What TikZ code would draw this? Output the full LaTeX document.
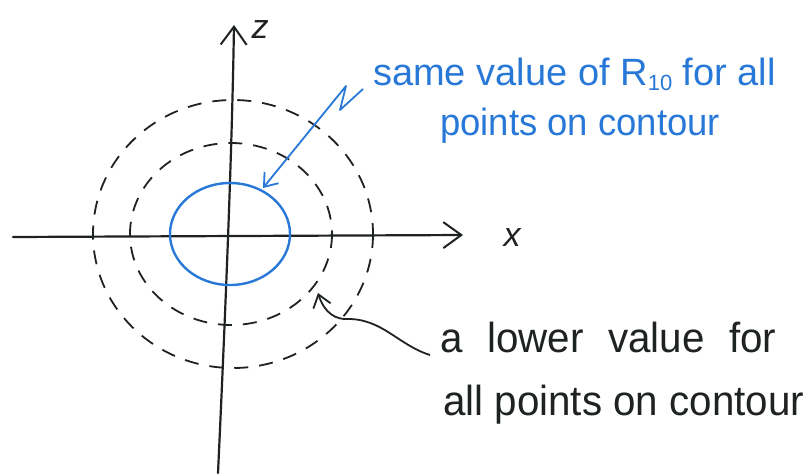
\documentclass[tikz,border=0pt]{standalone}
\usepackage{fontspec}
\setmainfont{Liberation Sans}
\usetikzlibrary{arrows.meta}
\definecolor{penblue}{RGB}{40,120,215}
\definecolor{penblack}{RGB}{30,34,32}
\newcommand{\wsp}{\hspace*{14pt}}
\tikzset{
  axis/.style={draw=penblack,line width=2.2pt,line cap=round},
  contour/.style={draw=penblack,line width=1.8pt,dash pattern=on 14pt off 11pt},
  bluecontour/.style={draw=penblue,line width=2.4pt},
  bluetext/.style={text=penblue,font=\fontsize{38}{44}\selectfont,inner sep=0pt,anchor=base west},
  blacktext/.style={text=penblack,font=\fontsize{42}{48}\selectfont,inner sep=0pt,anchor=base west},
  axlabel/.style={text=penblack,font=\fontsize{34}{40}\selectfont\itshape,inner sep=0pt},
  barb/.style={-{Straight Barb[length=18pt,width=26pt,line width=2pt]}}
}
\begin{document}
\begin{tikzpicture}[x=1pt,y=-1pt]
\useasboundingbox (0,0) rectangle (809,475);
% axes
\coordinate (xl) at (13,237);
\coordinate (xr) at (463,235);
\coordinate (zb) at (218,473);
\coordinate (zt) at (234,25);
\draw[axis,barb] (xl) -- (xr);
\draw[axis,barb] (zb) .. controls (226,300) and (232,150) .. (zt);
\node[axlabel] (xlab) at (512,238) {x};
\node[axlabel] (zlab) at (260,30) {z};
% contours
\draw[contour] (233,234) ellipse [x radius=140,y radius=134];
\draw[contour] (231,234) ellipse [x radius=101,y radius=91];
\draw[bluecontour] (230,234) ellipse [x radius=60,y radius=51];
% blue label
\node[bluetext] (same) at (373,85) {\scalebox{1.0}[1]{same value of R\raisebox{-0.25ex}{\fontsize{22}{24}\selectfont 10} for all}};
\node[bluetext] (same2) at (440,135) {\scalebox{0.96}[1]{points on contour}};
\coordinate (bz1) at (363,89);
\coordinate (bz2) at (340,110);
\coordinate (bz3) at (346,86);
\coordinate (btip) at (263,188);
\draw[draw=penblue,line width=1.8pt,line join=round,-{Straight Barb[length=12pt,width=18pt,line width=1.8pt]}]
  (bz1) -- (bz2) -- (bz3) -- (btip);
% black label
\node[blacktext] (low) at (440,352) {\scalebox{0.96}[1]{a\wsp{} lower\wsp{} value\wsp{} for}};
\node[blacktext] (low2) at (443,415) {\scalebox{0.96}[1]{all points on contour}};
\coordinate (ks) at (430,355);
\coordinate (ktip) at (318,293);
\draw[draw=penblack,line width=1.8pt,-{Straight Barb[length=12pt,width=18pt,line width=1.8pt]}]
  (ks) .. controls (398,345) and (382,318) .. (346,319) .. controls (330,319) and (322,306) .. (ktip);
\end{tikzpicture}
\end{document}
